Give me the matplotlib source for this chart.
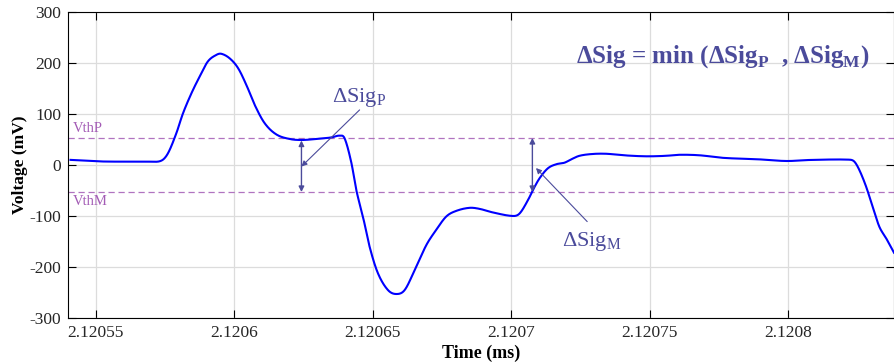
import matplotlib
matplotlib.use("Agg")
import matplotlib.pyplot as plt
import numpy as np

# waveform (time in ms, voltage in mV)
t_ms = [2.1205409, 2.1205514, 2.1205623, 2.1205695, 2.1205737, 2.1205761, 2.1205791,
        2.1205815, 2.1205846, 2.1205875, 2.1205905, 2.1205936, 2.1205954, 2.1205984,
        2.1206014, 2.1206044, 2.1206074, 2.1206110, 2.1206152, 2.1206200, 2.1206243,
        2.1206297, 2.1206351, 2.1206381, 2.1206399, 2.1206423, 2.1206441, 2.1206465,
        2.1206489, 2.1206519, 2.1206555, 2.1206586, 2.1206616, 2.1206652, 2.1206694,
        2.1206730, 2.1206766, 2.1206802, 2.1206850, 2.1206886, 2.1206934, 2.1207007,
        2.1207031, 2.1207061, 2.1207079, 2.1207103, 2.1207133, 2.1207163, 2.1207193,
        2.1207217, 2.1207247, 2.1207295, 2.1207344, 2.1207392, 2.1207452, 2.1207500,
        2.1207560, 2.1207608, 2.1207681, 2.1207765, 2.1207897, 2.1207994, 2.1208078,
        2.1208222, 2.1208240, 2.1208258, 2.1208282, 2.1208306, 2.1208330, 2.1208355,
        2.1208383]
v_mv = [10, 7, 6.5, 6.5, 8.5, 23, 62,
        101, 141, 173, 203, 216, 218, 209,
        190, 157, 118, 82, 60, 51, 49,
        51, 54, 57.5, 52, 5, -49, -101,
        -160, -212, -245, -253, -245, -206, -157,
        -127, -101, -90, -84, -86, -93, -100,
        -95, -69, -49, -26, -6.5, 1.4, 4.5,
        11, 18, 21.6, 22, 19.6, 17.6, 17,
        18, 20, 19, 14, 11, 7.8, 9.8,
        10.4, 6.5, -10, -42, -82, -121, -144,
        -172]

vth_p = 53
vth_m = -53
xticks = [2.12055, 2.1206, 2.12065, 2.1207, 2.12075, 2.1208]
xtick_labels = ["2.12055", "2.1206", "2.12065", "2.1207", "2.12075", "2.1208"]
yticks = [-300, -200, -100, 0, 100, 200, 300]

# delta markers: (time, low, high)
dsig_p = (2.1206243, vth_m, 48)
dsig_m = (2.1207077, vth_m, vth_p)

plt.rcParams["font.family"] = ["Liberation Serif", "DejaVu Serif"]
plt.rcParams["mathtext.fontset"] = "custom"
plt.rcParams["mathtext.rm"] = "Liberation Serif"
plt.rcParams["mathtext.bf"] = "Liberation Serif:bold"
plt.rcParams["axes.unicode_minus"] = False

ANN = "#4b4b9b"
PURP = "#a35bb5"


def smooth_curve(x, y, xn):
    # cubic hermite with centred tangents (catmull-rom like)
    h = np.diff(x)
    m = np.empty_like(y)
    m[1:-1] = (y[2:] - y[:-2]) / (x[2:] - x[:-2])
    m[0] = (y[1] - y[0]) / h[0]
    m[-1] = (y[-1] - y[-2]) / h[-1]
    i = np.clip(np.searchsorted(x, xn) - 1, 0, len(x) - 2)
    s = (xn - x[i]) / h[i]
    h00 = 2 * s**3 - 3 * s**2 + 1
    h10 = s**3 - 2 * s**2 + s
    h01 = -2 * s**3 + 3 * s**2
    h11 = s**3 - s**2
    return h00 * y[i] + h10 * h[i] * m[i] + h01 * y[i + 1] + h11 * h[i] * m[i + 1]


ts = (np.array(t_ms) - t_ms[0]) * 1e6
vs = np.array(v_mv, dtype=float)
tt = np.linspace(ts[0], ts[-1], 3000)
vv = smooth_curve(ts, vs, tt)
tt = tt / 1e6 + t_ms[0]

fig = plt.figure(figsize=(8.94, 3.63), dpi=100)
ax = fig.add_axes([0.0761, 0.124, 0.9239, 0.843])

ax.plot(tt, vv, color="#0000ff", lw=1.5, zorder=3)
ax.axhline(vth_p, color=PURP, ls=(0, (5, 3)), lw=0.9, alpha=0.85)
ax.axhline(vth_m, color=PURP, ls=(0, (5, 3)), lw=0.9, alpha=0.85)
ax.text(2.1205416, vth_p + 6, "VthP", color=PURP, fontsize=10.5, va="bottom")
ax.text(2.1205416, vth_m - 6, "VthM", color=PURP, fontsize=10.5, va="top")

for tm, lo, hi in (dsig_p, dsig_m):
    ax.annotate("", xy=(tm, hi), xytext=(tm, lo),
                arrowprops=dict(arrowstyle="<|-|>", color=ANN, lw=1.0,
                                mutation_scale=8, shrinkA=0, shrinkB=0))

ax.annotate("", xy=(dsig_p[0], -3), xytext=(2.1206453, 108),
            arrowprops=dict(arrowstyle="-|>", color=ANN, lw=0.8,
                            mutation_scale=8, shrinkA=0, shrinkB=0))
ax.text(2.1206352, 133, r"ΔSig$_\mathrm{P}$", color=ANN, fontsize=16, va="center")

ax.annotate("", xy=(2.120709, -6), xytext=(2.1207275, -111),
            arrowprops=dict(arrowstyle="-|>", color=ANN, lw=0.8,
                            mutation_scale=8, shrinkA=0, shrinkB=0))
ax.text(2.1207183, -150, r"ΔSig$_\mathrm{M}$", color=ANN, fontsize=16, va="center")

ax.text(2.1207234, 212, r"ΔSig = min (ΔSig$_\mathbf{P}$  , ΔSig$_\mathbf{M}$)",
        color=ANN, fontsize=18, fontweight="bold", va="center")

ax.set_xlim(2.12054, 2.1208383)
ax.set_ylim(-300, 300)
ax.set_xticks(xticks)
ax.set_xticklabels(xtick_labels)
ax.set_yticks(yticks)
ax.tick_params(direction="in", top=True, right=True, labelsize=12.5,
               labelcolor="#262626", length=6, pad=5)
ax.grid(color="#dcdcdc", lw=0.9)
ax.set_axisbelow(True)
ax.set_xlabel("Time (ms)", fontsize=13, fontweight="bold", labelpad=3)
ax.set_ylabel("Voltage (mV)", fontsize=12.5, fontweight="bold", labelpad=1)

fig.savefig("out.png", dpi=100)
